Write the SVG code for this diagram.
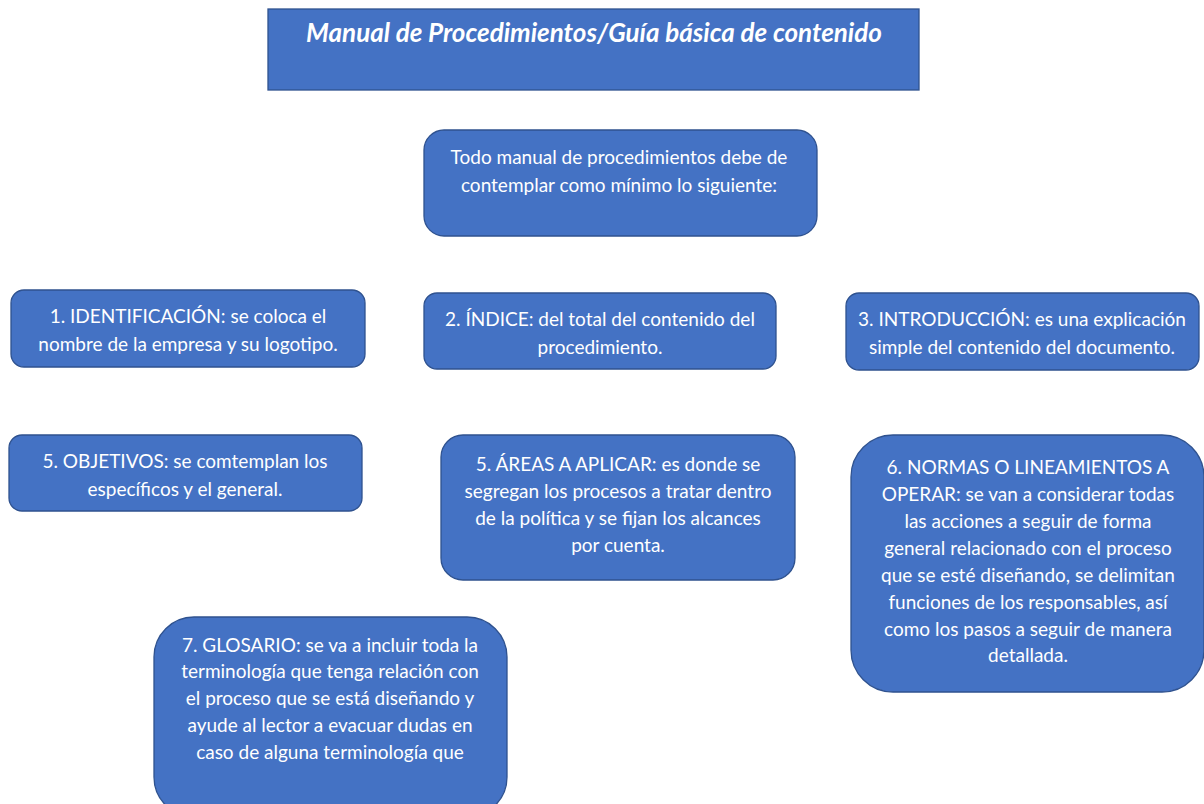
<svg xmlns="http://www.w3.org/2000/svg" width="1204" height="804" viewBox="0 0 1204 804">
<style>
.box{fill:#4472C4;stroke:#2F528F;stroke-width:1.3}
.t{fill:#fff;font-family:Lato,"Open Sans","Liberation Sans",sans-serif;font-size:19px;text-anchor:middle}
.title{fill:#fff;font-family:Lato,"Open Sans","Liberation Sans",sans-serif;font-size:26px;font-weight:bold;font-style:italic;text-anchor:middle}
</style>
<rect width="1204" height="804" fill="#fff"/>
<g id="title">
<rect class="box" x="268" y="9" width="651" height="81"/>
<text class="title" x="594" y="42">Manual de Procedimientos/Guía básica de contenido</text>
</g>
<g id="intro">
<rect class="box" x="424" y="130" width="393" height="106" rx="20"/>
<text class="t" x="619" y="164">Todo manual de procedimientos debe de</text>
<text class="t" x="619" y="192">contemplar como mínimo lo siguiente:</text>
</g>
<g id="n1">
<rect class="box" x="11" y="290" width="354" height="77" rx="13"/>
<text class="t" x="188" y="323">1. IDENTIFICACIÓN: se coloca el</text>
<text class="t" x="188" y="351">nombre de la empresa y su logotipo.</text>
</g>
<g id="n2">
<rect class="box" x="424" y="293" width="352" height="76" rx="13"/>
<text class="t" x="600" y="326">2. ÍNDICE: del total del contenido del</text>
<text class="t" x="600" y="354">procedimiento.</text>
</g>
<g id="n3">
<rect class="box" x="846" y="293" width="353" height="77" rx="13"/>
<text class="t" x="1022" y="326">3. INTRODUCCIÓN: es una explicación</text>
<text class="t" x="1022" y="354">simple del contenido del documento.</text>
</g>
<g id="n5a">
<rect class="box" x="9" y="435" width="353" height="76" rx="13"/>
<text class="t" x="185" y="468">5. OBJETIVOS: se comtemplan los</text>
<text class="t" x="185" y="496">específicos y el general.</text>
</g>
<g id="n5b">
<rect class="box" x="441" y="435" width="354" height="145" rx="22"/>
<text class="t" x="618" y="471">5. ÁREAS A APLICAR: es donde se</text>
<text class="t" x="618" y="498">segregan los procesos a tratar dentro</text>
<text class="t" x="618" y="525">de la política y se fijan los alcances</text>
<text class="t" x="618" y="552">por cuenta.</text>
</g>
<g id="n6">
<rect class="box" x="851" y="435" width="353" height="257" rx="42"/>
<text class="t" x="1028" y="474">6. NORMAS O LINEAMIENTOS A</text>
<text class="t" x="1028" y="501">OPERAR: se van a considerar todas</text>
<text class="t" x="1028" y="528">las acciones a seguir de forma</text>
<text class="t" x="1028" y="555">general relacionado con el proceso</text>
<text class="t" x="1028" y="582">que se esté diseñando, se delimitan</text>
<text class="t" x="1028" y="609">funciones de los responsables, así</text>
<text class="t" x="1028" y="636">como los pasos a seguir de manera</text>
<text class="t" x="1028" y="662">detallada.</text>
</g>
<g id="n7">
<rect class="box" x="154" y="617" width="353" height="200" rx="40"/>
<text class="t" x="330" y="652">7. GLOSARIO: se va a incluir toda la</text>
<text class="t" x="330" y="678">terminología que tenga relación con</text>
<text class="t" x="330" y="705">el proceso que se está diseñando y</text>
<text class="t" x="330" y="732">ayude al lector a evacuar dudas en</text>
<text class="t" x="330" y="759">caso de alguna terminología que</text>
</g>
<g id="connectors"></g>
</svg>
